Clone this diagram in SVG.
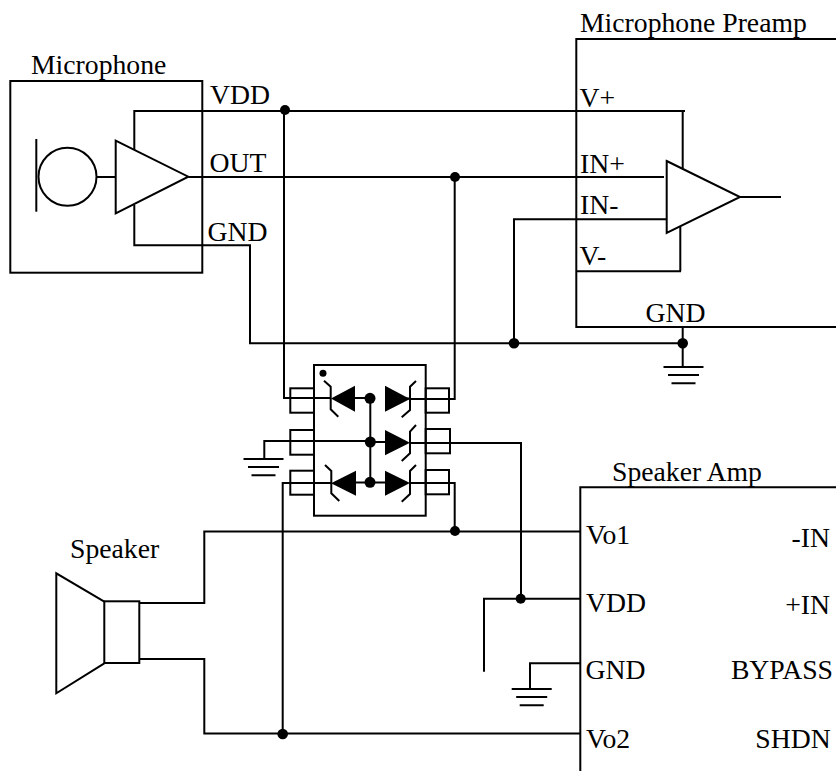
<svg xmlns="http://www.w3.org/2000/svg" width="836" height="771" viewBox="0 0 836 771">
<style>
text{font-family:"Liberation Serif","Times New Roman",serif;font-size:27.7px;fill:#000}
.e{text-anchor:end}
path,rect,circle.o,line{fill:none;stroke:#000;stroke-width:2}
path.d{fill:#000;stroke:none}
.j{fill:#000;stroke:none}
</style>
<defs>
<g id="gnd"><path d="M-20 0H20M-15.500 8H15.500M-12 16.300H12"/></g>
</defs>
<g id="connectors">
<path d="M134.300 150V111H685M682.700 111V168"/>
<path d="M97 177H115.700M188.300 177H664"/>
<path d="M134.300 205V245.300H250V343.300H682.700"/>
<path d="M284 111V398H331"/>
<path d="M454.700 177V399H410"/>
<path d="M514 343.300V219.300H666"/>
<path d="M576.300 271.300H681M680.300 226.700V271.300"/>
<path d="M682.700 327V367"/>
<path d="M740 197H781"/>
<path d="M264.300 458.500V441H370M410 443H521V598.700"/>
<path d="M484 671.700V598.700H580.300"/>
<path d="M580.300 663.300H530V689"/>
<path d="M139.300 603H204.300V531.500H580.300"/>
<path d="M139.300 659H204.300V733.500H580.300"/>
<path d="M282.700 733.500V483H331"/>
<path d="M410 483H454.700V531.500"/>
<circle class="j" cx="285" cy="110" r="5"/>
<circle class="j" cx="455" cy="177" r="5"/>
<circle class="j" cx="514" cy="343.300" r="5.300"/>
<circle class="j" cx="682.700" cy="343.300" r="5.300"/>
<circle class="j" cx="455" cy="531" r="5"/>
<circle class="j" cx="520.700" cy="598.700" r="5"/>
<circle class="j" cx="282.700" cy="734" r="5.300"/>
</g>
<g id="microphone">
<rect x="10.300" y="81" width="192" height="191.700"/>
<text x="31" y="74">Microphone</text>
<path d="M36.300 139V211.700"/>
<circle class="o" cx="67.500" cy="176.700" r="29"/>
<path d="M115.700 140.700L188.300 176.700L115.700 213.300Z"/>
<text x="210" y="104.300">VDD</text>
<text x="209.500" y="171.700">OUT</text>
<text x="207.500" y="241">GND</text>
</g>
<g id="preamp">
<path d="M836 39H576.300V327H836"/>
<text x="580" y="32">Microphone Preamp</text>
<path d="M666.700 161L740 197L666.700 233Z"/>
<text x="579.500" y="106.700">V+</text>
<text x="580" y="173.300">IN+</text>
<text x="580" y="214">IN-</text>
<text x="579.500" y="265">V-</text>
<text x="645.500" y="321.700">GND</text>
</g>
<g id="ground-1"><use href="#gnd" x="683.500" y="367"/></g>
<g id="ground-2"><use href="#gnd" x="263.500" y="459"/></g>
<g id="ground-3"><use href="#gnd" x="531.700" y="689"/></g>
<g id="protection-ic">
<rect x="314" y="365" width="111.700" height="150.700"/>
<circle class="j" cx="323" cy="373.300" r="3.500"/>
<rect x="290.300" y="388.300" width="23.700" height="24.400"/>
<rect x="290.300" y="430" width="23.700" height="24.700"/>
<rect x="290.300" y="470.700" width="23.700" height="24"/>
<rect x="425.700" y="388.300" width="23.300" height="24.400"/>
<rect x="425.700" y="429" width="24.300" height="24.300"/>
<rect x="425.700" y="470" width="23.300" height="24.300"/>
<path d="M355 398H370M385 398.500H410M370.300 398V482M370 442H385M356 482.500H370M370 482.500H385"/>
<path class="d" d="M331 398.500L355 385.700V411.700Z"/>
<path class="d" d="M385 385.700L410 399L385 411.700Z"/>
<path class="d" d="M385 430L410 442.700L385 455.300Z"/>
<path class="d" d="M331 483.300L356 470.700V495.700Z"/>
<path class="d" d="M385 470.700L410 483L385 495.700Z"/>
<path d="M324 380.700L330.700 386.700V409.300L338.300 416.700"/>
<path d="M416 381L410 386.700V410L401.700 417.300"/>
<path d="M416 425L410 431.700V453.300L401.700 461"/>
<path d="M325 465L331.300 471V493.300L339.300 501"/>
<path d="M416 465L410 471V494L401.700 501.700"/>
<circle class="j" cx="370" cy="398.300" r="5.500"/>
<circle class="j" cx="370.300" cy="442" r="5.500"/>
<circle class="j" cx="370" cy="482.300" r="5.500"/>
</g>
<g id="speaker">
<text x="70" y="557.700">Speaker</text>
<path d="M104.300 601.700L56.300 573.300V693.300L104.300 663.300"/>
<rect x="104.300" y="601.300" width="35" height="61.700"/>
</g>
<g id="speaker-amp">
<path d="M836 487.300H580.300V771"/>
<text x="612" y="481">Speaker Amp</text>
<text x="586" y="544">Vo1</text>
<text x="586" y="611.700">VDD</text>
<text x="585.500" y="678.700">GND</text>
<text x="586" y="748">Vo2</text>
<text class="e" x="830" y="546.700">-IN</text>
<text class="e" x="830" y="614">+IN</text>
<text class="e" x="833" y="678.700">BYPASS</text>
<text class="e" x="830.700" y="748">SHDN</text>
</g>
</svg>
